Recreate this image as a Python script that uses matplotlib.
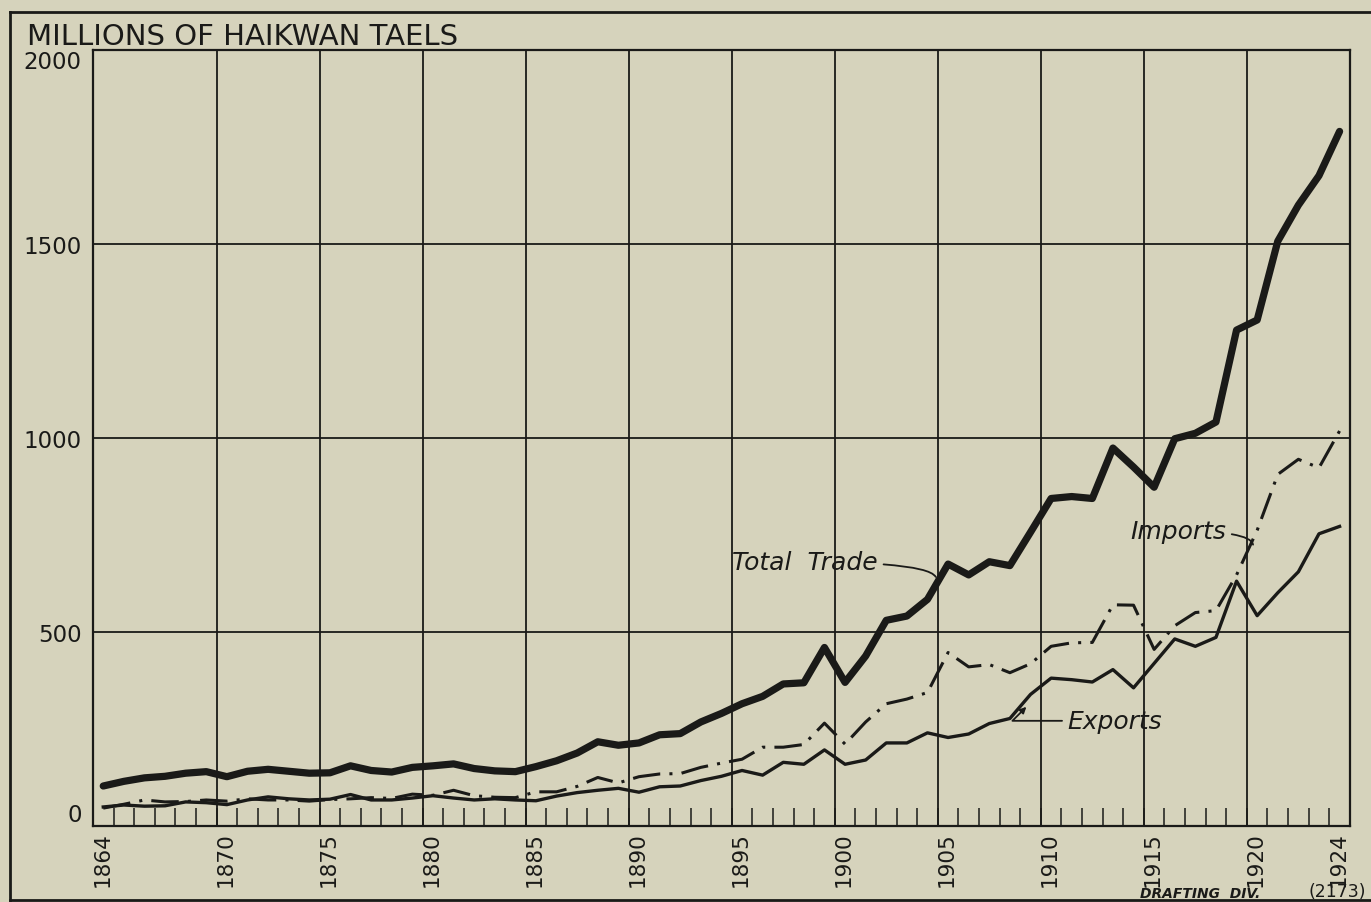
import matplotlib
matplotlib.use('Agg')
import matplotlib.pyplot as plt
from matplotlib.lines import Line2D

# China foreign trade, millions of Haikwan taels
years = list(range(1864, 1925))
imports = [46, 56, 67, 62, 63, 67, 64, 70, 67, 67,
           64, 68, 70, 73, 71, 82, 79, 92, 78, 74,
           73, 88, 88, 102, 125, 111, 127, 134, 135, 151,
           162, 172, 203, 203, 210, 265, 211, 268, 315, 327,
           344, 447, 410, 416, 395, 418, 463, 472, 473, 570,
           569, 455, 516, 550, 555, 647, 762, 906, 945, 923,
           1018]
exports = [49, 54, 51, 52, 62, 60, 55, 67, 75, 70,
           67, 69, 81, 67, 67, 72, 78, 72, 67, 70,
           67, 65, 77, 86, 92, 97, 87, 101, 103, 117,
           128, 143, 131, 164, 159, 196, 159, 170, 214, 214,
           240, 228, 237, 264, 277, 339, 381, 377, 371, 403,
           356, 419, 482, 463, 486, 631, 542, 601, 655, 753,
           772]
total_trade = [103, 115, 124, 128, 136, 140, 127, 141, 146, 141,
               136, 137, 155, 143, 139, 151, 155, 160, 148, 142,
               140, 153, 168, 188, 217, 208, 214, 235, 238, 268,
               290, 315, 334, 366, 369, 460, 370, 438, 530, 541,
               584, 675, 647, 681, 671, 757, 844, 849, 844, 974,
               925, 873, 998, 1012, 1041, 1278, 1304, 1507, 1600, 1676,
               1790]
label_years = [1864, 1870, 1875, 1880, 1885, 1890, 1895, 1900,
               1905, 1910, 1915, 1920, 1924]
grid_years = [1870, 1875, 1880, 1885, 1890, 1895, 1900, 1905, 1910, 1915, 1920]
y_ticks = [0, 500, 1000, 1500, 2000]

paper = '#d6d3bc'
ink = '#1a1a18'

plt.rcParams['font.family'] = ['DejaVu Sans']

fig = plt.figure(figsize=(13.71, 9.03), dpi=100, facecolor=paper)
ax = fig.add_axes([0.0678, 0.0842, 0.9168, 0.8594], facecolor=paper)

# each year is drawn at the middle of its interval
xs = [y + 0.5 for y in years]
ax.plot(xs, total_trade, color=ink, lw=5.2, solid_joinstyle='round',
        solid_capstyle='round', zorder=5)
ax.plot(xs, exports, color=ink, lw=2.4, solid_joinstyle='round', zorder=4)
ax.plot(xs, imports, color=ink, lw=2.2, dashes=(9, 3, 1, 3), zorder=4)

for g in grid_years:
    ax.axvline(g, color=ink, lw=1.3, zorder=1)
for v in y_ticks[1:-1]:
    ax.axhline(v, color=ink, lw=1.3, zorder=1)

ax.set_xlim(1864, 1925)
ax.set_ylim(0, 2000)

ax.set_xticks([y + 0.45 for y in label_years])
ax.set_xticklabels([str(y) for y in label_years], rotation=90, fontsize=15.5)
ax.set_xticks(range(1865, 1925), minor=True)
ax.tick_params(axis='x', which='major', length=0, pad=4, colors=ink)
ax.tick_params(axis='x', which='minor', direction='in', length=13, width=1.1, color=ink)

ax.set_yticks(y_ticks)
ax.set_yticklabels([str(v) for v in y_ticks], fontsize=16.5)
ax.tick_params(axis='y', length=0, pad=8, colors=ink)
ylabels = ax.get_yticklabels()
ylabels[0].set_va('bottom')
ylabels[-1].set_va('top')

for s in ax.spines.values():
    s.set_color(ink)
    s.set_linewidth(1.6)

fig.text(27 / 1371, 1 - 37 / 903, 'MILLIONS OF HAIKWAN TAELS', fontsize=21,
         color=ink, ha='left', va='center')

# labels with leader lines
ax.annotate('Total  Trade', xy=(1904.9, 642), xytext=(1902.1, 680),
            fontsize=18, style='italic', color=ink, ha='right', va='center',
            arrowprops=dict(arrowstyle='-', color=ink, lw=1.3, shrinkA=2, shrinkB=0,
                            connectionstyle='angle3,angleA=0,angleB=-60'), zorder=6)
ax.annotate('Imports', xy=(1920.3, 725), xytext=(1919.0, 760),
            fontsize=18, style='italic', color=ink, ha='right', va='center',
            arrowprops=dict(arrowstyle='-', color=ink, lw=1.3, shrinkA=2, shrinkB=0,
                            connectionstyle='angle3,angleA=0,angleB=-80'), zorder=6)
ax.annotate('Exports', xy=(1909.3, 307), xytext=(1911.3, 271),
            fontsize=18, style='italic', color=ink, ha='left', va='center',
            arrowprops=dict(arrowstyle='-|>', color=ink, lw=1.3, shrinkA=2, shrinkB=0,
                            mutation_scale=9,
                            connectionstyle='angle,angleA=0,angleB=45,rad=0'), zorder=6)

# outer frame of the plate
fx0, fy0, fy1 = 10 / 1371, 1 - 901 / 903, 1 - 13 / 903
fig.add_artist(Line2D([fx0, fx0], [fy0, fy1], transform=fig.transFigure, color=ink, lw=2))
fig.add_artist(Line2D([fx0, 1], [fy1, fy1], transform=fig.transFigure, color=ink, lw=2))
fig.add_artist(Line2D([fx0, 1], [fy0, fy0], transform=fig.transFigure, color=ink, lw=2))

fig.text(1140 / 1371, 1 - 894 / 903, 'DRAFTING  DIV.', fontsize=10, style='italic',
         weight='bold', color=ink, ha='left', va='center')
fig.text(1366 / 1371, 1 - 892 / 903, '(2173)', fontsize=12.5, color=ink,
         ha='right', va='center')

fig.savefig('out.png', dpi=100, facecolor=paper)
